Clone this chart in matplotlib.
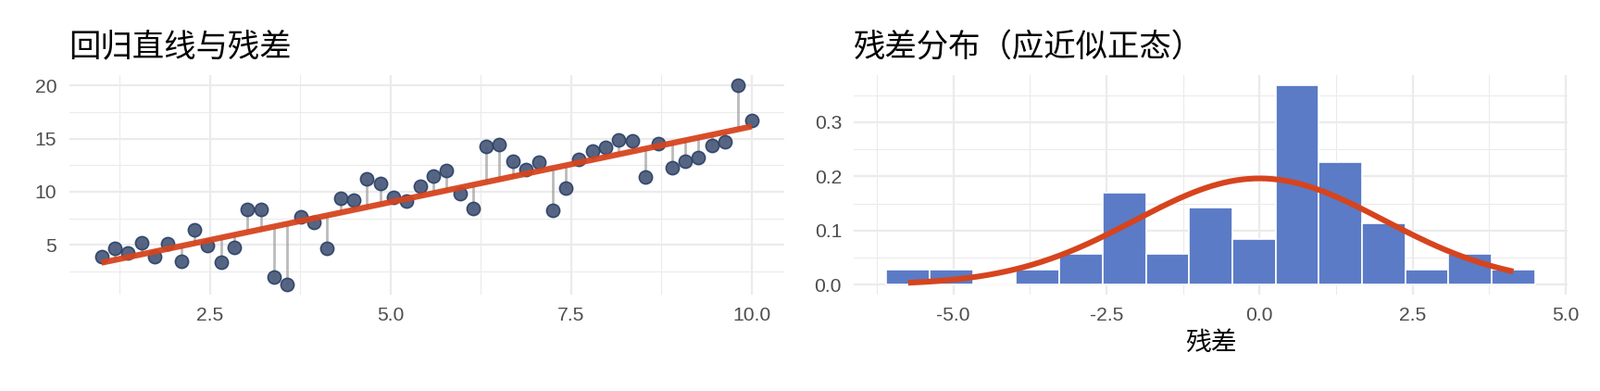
import numpy as np
import matplotlib
matplotlib.use("Agg")
import matplotlib.pyplot as plt
from matplotlib.ticker import FormatStrFormatter

plt.rcParams['font.family'] = ['Liberation Sans', 'Noto Sans CJK SC', 'DejaVu Sans']
plt.rcParams['axes.unicode_minus'] = False

# data
x = np.linspace(1, 10, 50)
y = [3.90, 4.71, 4.27, 5.20, 3.87, 5.14, 3.43, 6.40, 4.94, 3.40,
     4.74, 8.37, 8.32, 1.95, 1.25, 7.67, 7.12, 4.66, 9.42, 9.22,
     11.19, 10.81, 9.45, 9.16, 10.55, 11.48, 12.00, 9.83, 8.46, 14.27,
     14.47, 12.91, 12.06, 12.82, 8.28, 10.38, 13.02, 13.81, 14.16, 14.88,
     14.77, 11.42, 14.50, 12.27, 12.88, 13.20, 14.33, 14.73, 20.03, 16.69]
y = np.array(y)

title_left = "回归直线与残差"
title_right = "残差分布（应近似正态）"
xlabel_right = "残差"

left_xticks = [2.5, 5.0, 7.5, 10.0]
left_yticks = [5, 10, 15, 20]
right_xticks = [-5.0, -2.5, 0.0, 2.5, 5.0]
right_yticks = [0.0, 0.1, 0.2, 0.3]

# fit + residuals
slope, icpt = np.polyfit(x, y, 1)
fitted = icpt + slope * x
resid = y - fitted

RED = '#D6441E'
PT = '#4D5D7C'
PT_EDGE = '#2E4367'
BAR = '#5B7BC6'
GRID = '#EBEBEB'
TXT = '#4D4D4D'

fig = plt.figure(figsize=(8.64, 2.11), dpi=200)
axL = fig.add_axes([0.04317, 0.24621, 0.44688, 0.56137])
axR = fig.add_axes([0.53380, 0.24621, 0.44583, 0.56137])


def expand(lo, hi, f=0.05):
    r = hi - lo
    return lo - r * f, hi + r * f


def style(ax, xmaj, ymaj):
    for s in ax.spines.values():
        s.set_visible(False)
    ax.set_xticks(xmaj)
    ax.set_yticks(ymaj)
    xm = [(a + b) / 2 for a, b in zip(xmaj[:-1], xmaj[1:])]
    ym = [(a + b) / 2 for a, b in zip(ymaj[:-1], ymaj[1:])]
    dx = xmaj[1] - xmaj[0]
    dy = ymaj[1] - ymaj[0]
    xm = [xmaj[0] - dx / 2] + xm + [xmaj[-1] + dx / 2]
    ym = [ymaj[0] - dy / 2] + ym + [ymaj[-1] + dy / 2]
    ax.set_xticks(xm, minor=True)
    ax.set_yticks(ym, minor=True)
    ax.grid(True, which='major', color=GRID, lw=0.8)
    ax.grid(True, which='minor', color=GRID, lw=0.4)
    ax.set_axisbelow(True)
    ax.tick_params(which='both', length=0, labelsize=7.6, labelcolor=TXT, pad=4.8)


# left: regression line with residual segments
axL.vlines(x, fitted, y, color='#9E9E9E', lw=1.0, alpha=0.7, zorder=2)
axL.scatter(x, y, s=26, color=PT, edgecolor=PT_EDGE, linewidth=0.6, alpha=0.95, zorder=3)
axL.plot(x, fitted, color=RED, lw=2.3, alpha=0.95, solid_capstyle='butt', zorder=4)
style(axL, left_xticks, left_yticks)
axL.set_xlim(*expand(x.min(), x.max()))
axL.set_ylim(*expand(y.min(), y.max()))
axL.xaxis.set_major_formatter(FormatStrFormatter('%.1f'))
axL.set_title(title_left, loc='left', fontsize=12.4, pad=7.5,
              family=['Noto Sans CJK SC', 'DejaVu Sans'])

# right: histogram of residuals (15 bins, ggplot style) + normal curve
nb = 15
w = (resid.max() - resid.min()) / (nb - 1)
edges = resid.min() - w / 2 + w * np.arange(nb + 1)
dens, _, _ = axR.hist(resid, bins=edges, density=True, color=BAR,
                      edgecolor='white', linewidth=0.6, zorder=2)
xs = np.linspace(resid.min(), resid.max(), 200)
sd = resid.std(ddof=1)
pdf = np.exp(-0.5 * ((xs - resid.mean()) / sd) ** 2) / (sd * np.sqrt(2 * np.pi))
axR.plot(xs, pdf, color=RED, lw=2.2, solid_capstyle='butt', zorder=3)
style(axR, right_xticks, right_yticks)
axR.set_xlim(*expand(edges[0], edges[-1]))
axR.set_ylim(*expand(0, max(dens.max(), pdf.max())))
axR.xaxis.set_major_formatter(FormatStrFormatter('%.1f'))
axR.yaxis.set_major_formatter(FormatStrFormatter('%.1f'))
axR.set_xlabel(xlabel_right, fontsize=10, labelpad=1.5,
               family=['Noto Sans CJK SC', 'DejaVu Sans'])
axR.set_title(title_right, loc='left', fontsize=12.4, pad=7.5,
              family=['Noto Sans CJK SC', 'DejaVu Sans'])

fig.savefig('out.png', dpi=200, facecolor='white')
